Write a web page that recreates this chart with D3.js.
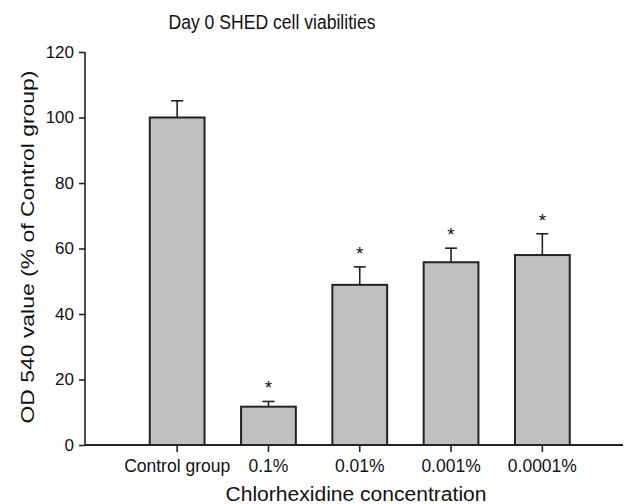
<!DOCTYPE html>
<html>
<head>
<meta charset="utf-8">
<script src="https://cdn.jsdelivr.net/npm/d3@7"></script>
<style>
  body { margin: 0; background: #fff; }
  text { font-family: "Liberation Sans", Arial, sans-serif; fill: #111; }
</style>
</head>
<body>
<svg id="chart" width="624" height="504"></svg>
<script>
// values
const groups = ["Control group", "0.1%", "0.01%", "0.001%", "0.0001%"]
const means = [100, 11.7, 48.9, 55.8, 58.0]
const errors = [5.1, 1.6, 5.5, 4.3, 6.5]
const starred = [false, true, true, true, true]
const yTicks = [0, 20, 40, 60, 80, 100, 120]

const svg = d3.select("#chart")
const ink = "#222"

let y = d3.scaleLinear().domain([0, 120]).range([445, 52])
let x = d3.scaleBand().domain(groups).range([131.5, 588])
  .paddingInner(0.4).paddingOuter(0.2)

let rows = groups.map((g, i) => ({ g, m: means[i], e: errors[i], s: starred[i] }))

// bars
svg.append("g").selectAll("rect")
  .data(rows).enter()
  .append("rect")
  .attr("x", d => x(d.g))
  .attr("y", d => y(d.m))
  .attr("width", x.bandwidth())
  .attr("height", d => y(0) - y(d.m))
  .attr("fill", "#c0c0c0")
  .attr("stroke", ink)
  .attr("stroke-width", 2)

// error bars (upper half only)
let err = svg.append("g").attr("stroke", ink).attr("stroke-width", 1.6)
let cx = d => x(d.g) + x.bandwidth() / 2
err.selectAll(".stem").data(rows).enter()
  .append("line")
  .attr("x1", cx).attr("x2", cx)
  .attr("y1", d => y(d.m)).attr("y2", d => y(d.m + d.e))
err.selectAll(".cap").data(rows).enter()
  .append("line")
  .attr("x1", d => cx(d) - 6).attr("x2", d => cx(d) + 6)
  .attr("y1", d => y(d.m + d.e)).attr("y2", d => y(d.m + d.e))

// significance stars
svg.append("g").selectAll("text")
  .data(rows.filter(d => d.s)).enter()
  .append("text")
  .attr("x", cx)
  .attr("y", d => y(d.m + d.e) - 7)
  .attr("text-anchor", "middle")
  .attr("font-size", 19)
  .text("*")

// axes
let yAxis = d3.axisLeft(y).tickValues(yTicks).tickSize(6).tickPadding(5)
let gy = svg.append("g").attr("transform", "translate(85,0)").call(yAxis)
gy.select(".domain").remove()
gy.append("line").attr("x1", 0).attr("x2", 0).attr("y1", y(120)).attr("y2", y(0))
  .attr("stroke", ink).attr("stroke-width", 1.6)
gy.selectAll(".tick line").attr("stroke", ink).attr("stroke-width", 1.6)
gy.selectAll(".tick text").attr("font-size", 17).attr("font-family", "Liberation Sans, Arial, sans-serif").attr("fill", "#111")

let xAxis = d3.axisBottom(x).tickSize(7).tickPadding(8)
let gx = svg.append("g").attr("transform", `translate(0,${y(0)})`).call(xAxis)
gx.select(".domain").remove()
gx.append("line").attr("x1", 85).attr("x2", 623).attr("y1", 0).attr("y2", 0)
  .attr("stroke", ink).attr("stroke-width", 1.8)
gx.selectAll(".tick line").attr("stroke", ink).attr("stroke-width", 1.6)
gx.selectAll(".tick text").attr("font-size", 17.5).attr("font-family", "Liberation Sans, Arial, sans-serif").attr("fill", "#111")

// titles
svg.append("text")
  .attr("x", 272).attr("y", 29)
  .attr("text-anchor", "middle")
  .attr("font-size", 19.5)
  .attr("textLength", 207).attr("lengthAdjust", "spacingAndGlyphs")
  .text("Day 0 SHED cell viabilities")

svg.append("text")
  .attr("x", 356).attr("y", 501)
  .attr("text-anchor", "middle")
  .attr("font-size", 20)
  .attr("textLength", 261).attr("lengthAdjust", "spacingAndGlyphs")
  .text("Chlorhexidine concentration")

svg.append("text")
  .attr("transform", "translate(34,247) rotate(-90)")
  .attr("text-anchor", "middle")
  .attr("font-size", 19)
  .attr("textLength", 353).attr("lengthAdjust", "spacingAndGlyphs")
  .text("OD 540 value (% of Control group)")
</script>
</body>
</html>
